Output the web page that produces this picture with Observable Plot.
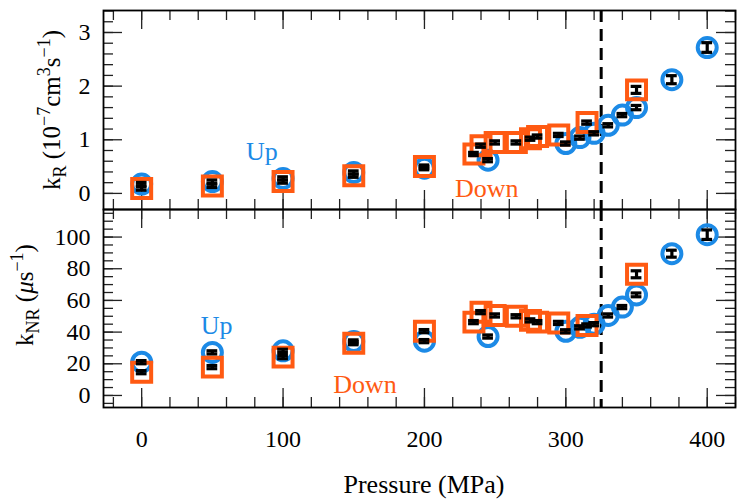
<!DOCTYPE html>
<html>
<head>
<meta charset="utf-8">
<script src="https://cdn.jsdelivr.net/npm/d3@7"></script>
<script src="https://cdn.jsdelivr.net/npm/@observablehq/plot@0.6"></script>
<style>
  body { margin: 0; background: #fff; }
  #chart { position: relative; width: 739px; height: 499px; font-family: "Liberation Serif", "Times New Roman", serif; }
  #chart svg { position: absolute; left: 0; overflow: visible; }
</style>
</head>
<body>
<div id="chart"></div>
<script>
const BLUE = "#1c8ae6";
const ORANGE = "#ff5a12";
const FONT = '"Liberation Serif", "Times New Roman", serif';

// Increasing-pressure run ("Up")
const upPressure = [0, 50, 100, 150, 200, 245, 300, 310, 320, 330, 340, 350, 375, 400];
const upKR       = [0.175, 0.22, 0.28, 0.39, 0.47, 0.62, 0.93, 1.04, 1.12, 1.27, 1.46, 1.60, 2.12, 2.72];
const upKRErr    = [0.03, 0.03, 0.03, 0.03, 0.03, 0.03, 0.03, 0.03, 0.03, 0.03, 0.03, 0.04, 0.075, 0.09];
const upKNR      = [21.0, 27.2, 28.2, 34.1, 34.3, 37.2, 40.5, 43.0, 45.0, 50.5, 55.8, 63.5, 89.5, 101.5];
const upKNRErr   = [1.0, 1.0, 1.0, 1.0, 1.0, 1.0, 1.0, 1.0, 1.0, 1.0, 1.0, 1.2, 2.2, 3.0];

// Decreasing-pressure run ("Down")
const downPressure = [350, 315, 295, 280, 275, 265, 250, 240, 235, 200, 150, 100, 50, 0];
const downKR       = [1.93, 1.32, 1.09, 1.06, 1.02, 0.95, 0.95, 0.89, 0.735, 0.50, 0.33, 0.22, 0.14, 0.09];
const downKRErr    = [0.065, 0.03, 0.03, 0.03, 0.03, 0.03, 0.03, 0.03, 0.03, 0.03, 0.03, 0.03, 0.03, 0.03];
const downKNR      = [76.5, 44.2, 45.8, 46.3, 47.4, 50.0, 50.5, 52.6, 46.3, 40.6, 33.0, 24.2, 17.9, 14.7];
const downKNRErr   = [2.2, 1.0, 1.0, 1.0, 1.0, 1.0, 1.0, 1.0, 1.0, 1.0, 1.0, 1.0, 1.0, 1.0];

// Phase transition pressure (dashed line)
const transitionPressure = 325;

// Axis ticks
const xTicks   = [0, 100, 200, 300, 400];
const kRTicks  = [0, 1, 2, 3];
const kNRTicks = [0, 20, 40, 60, 80, 100];

// In-panel run labels
const kRNotes  = [{p: 85, v: 0.77, t: "Up", run: "up"}, {p: 244, v: 0.08, t: "Down", run: "down"}];
const kNRNotes = [{p: 53, v: 44, t: "Up", run: "up"}, {p: 158, v: 6.8, t: "Down", run: "down"}];

const WIDTH = 739, M_LEFT = 103, M_RIGHT = 4;
const xDomain = [-27, 420];
const xMinor = d3.range(-20, 421, 20);
const CAP = 3.8; // half-width of error-bar caps, MPa

const rows = (ps, vs, es) => ps.map((p, i) => ({p, v: vs[i], e: es[i]}));

function errorBars(data) {
  const s = {stroke: "black", strokeWidth: 3.2};
  return [
    Plot.ruleX(data, {x: "p", y1: d => d.v - d.e, y2: d => d.v + d.e, ...s}),
    Plot.ruleY(data, {y: d => d.v - d.e, x1: d => d.p - CAP, x2: d => d.p + CAP, ...s}),
    Plot.ruleY(data, {y: d => d.v + d.e, x1: d => d.p - CAP, x2: d => d.p + CAP, ...s})
  ];
}

// Inward ticks on all four sides of the frame (major 19px, minor 10px)
function frameTicks(yMajor, yMinor, plotH) {
  const plotW = WIDTH - M_LEFT - M_RIGHT;
  const s = {stroke: "#222", strokeWidth: 1.3};
  const marks = [];
  for (const [ticks, len] of [[xMinor, 10], [xTicks, 19]]) {
    marks.push(Plot.ruleX(ticks, {...s, insetBottom: plotH - len}));
    marks.push(Plot.ruleX(ticks, {...s, insetTop: plotH - len}));
  }
  for (const [ticks, len] of [[yMinor, 10], [yMajor, 19]]) {
    marks.push(Plot.ruleY(ticks, {...s, insetRight: plotW - len}));
    marks.push(Plot.ruleY(ticks, {...s, insetLeft: plotW - len}));
  }
  return marks;
}

function panel({height, marginTop, marginBottom, yDomain, yMajor, yMinor, up, down, notes, xLabels}) {
  const plotH = height - marginTop - marginBottom;
  return Plot.plot({
    width: WIDTH,
    height,
    marginLeft: M_LEFT,
    marginRight: M_RIGHT,
    marginTop,
    marginBottom,
    style: {fontFamily: FONT, fontSize: "24px", background: "none", overflow: "visible"},
    x: {domain: xDomain, label: null},
    y: {domain: yDomain, label: null},
    marks: [
      ...frameTicks(yMajor, yMinor, plotH),
      Plot.axisY(yMajor, {anchor: "left", tickSize: 0, tickPadding: 13, fontSize: 24, tickFormat: d => `${d}`}),
      xLabels
        ? Plot.axisX(xTicks, {anchor: "bottom", tickSize: 0, tickPadding: 22, fontSize: 24, tickFormat: d => `${d}`})
        : Plot.axisX([], {anchor: "bottom", tickSize: 0}),
      Plot.ruleX([transitionPressure], {stroke: "black", strokeWidth: 3, strokeDasharray: "12,7"}),
      Plot.dot(up, {x: "p", y: "v", r: 9.5, stroke: BLUE, strokeWidth: 4, fill: "none"}),
      Plot.dot(down, {x: "p", y: "v", symbol: "square", r: 10.7, stroke: ORANGE, strokeWidth: 4, fill: "none"}),
      ...errorBars(up),
      ...errorBars(down),
      Plot.text(notes.filter(d => d.run === "up"), {x: "p", y: "v", text: "t", fill: BLUE, fontSize: 26}),
      Plot.text(notes.filter(d => d.run === "down"), {x: "p", y: "v", text: "t", fill: ORANGE, fontSize: 26}),
      Plot.frame({stroke: "black", strokeWidth: 1.8})
    ]
  });
}

// Rotated y-axis title built from [text, kind] pieces (kind: "", "sub", "sup", "it")
function yTitle(svg, x, y, parts) {
  const t = d3.select(svg).append("text")
    .attr("transform", `translate(${x},${y}) rotate(-90)`)
    .attr("text-anchor", "middle")
    .attr("font-family", FONT)
    .attr("font-size", 25)
    .attr("fill", "black");
  let shift = 0;
  for (const [s, kind] of parts) {
    const target = kind === "sub" ? 6 : kind === "sup" ? -10 : 0;
    const ts = t.append("tspan").attr("dy", target - shift).text(s);
    if (kind === "sub" || kind === "sup") ts.attr("font-size", 18);
    if (kind === "it") ts.attr("font-style", "italic");
    shift = target;
  }
}

const chart = document.getElementById("chart");

const topPanel = panel({
  height: 215, marginTop: 10, marginBottom: 6,
  yDomain: [-0.3, 3.41], yMajor: kRTicks, yMinor: d3.range(0, 3.41, 0.2),
  up: rows(upPressure, upKR, upKRErr),
  down: rows(downPressure, downKR, downKRErr),
  notes: kRNotes, xLabels: false
});
topPanel.style.top = "0px";
chart.appendChild(topPanel);
yTitle(topPanel, 60, 110, [["k", ""], ["R", "sub"], [" (10", ""], ["\u22127", "sup"], ["cm", ""], ["3", "sup"], ["s", ""], ["\u22121", "sup"], [")", ""]]);

const bottomPanel = panel({
  height: 299, marginTop: 9, marginBottom: 92,
  yDomain: [-7.6, 117.4], yMajor: kNRTicks, yMinor: d3.range(-5, 116, 5),
  up: rows(upPressure, upKNR, upKNRErr),
  down: rows(downPressure, downKNR, downKNRErr),
  notes: kNRNotes, xLabels: true
});
bottomPanel.style.top = "200px";
chart.appendChild(bottomPanel);
yTitle(bottomPanel, 33, 95, [["k", ""], ["NR", "sub"], [" (", ""], ["\u03bc", "it"], ["s", ""], ["\u22121", "sup"], [")", ""]]);

d3.select(bottomPanel).append("text")
  .attr("x", 424).attr("y", 293)
  .attr("text-anchor", "middle")
  .attr("font-family", FONT)
  .attr("font-size", 26)
  .attr("fill", "black")
  .text("Pressure (MPa)");
</script>
</body>
</html>
